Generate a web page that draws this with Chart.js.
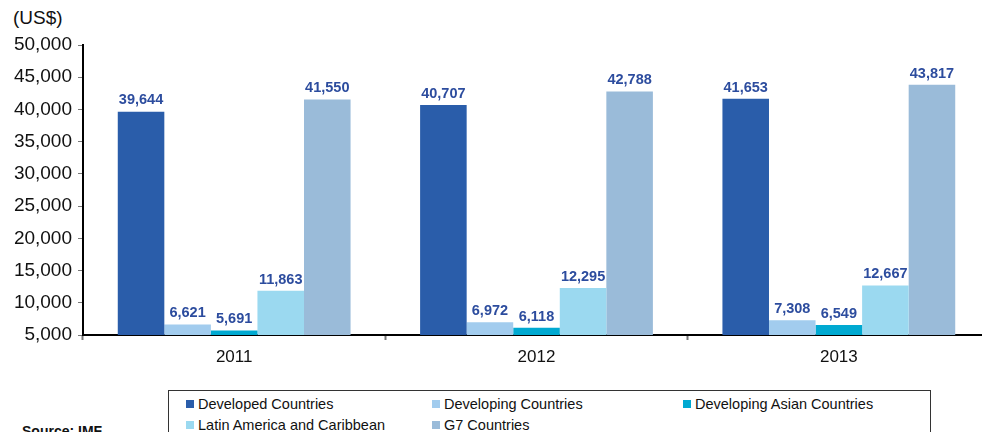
<!DOCTYPE html>
<html>
<head>
<meta charset="utf-8">
<script src="https://cdn.jsdelivr.net/npm/chart.js@4/dist/chart.umd.min.js"></script>
<style>
  html, body { margin: 0; padding: 0; background: #fff; overflow: hidden; width: 982px; height: 432px; }
  body { position: relative; font-family: "Liberation Sans", Arial, sans-serif; color: #111; }
  #wrap { position: absolute; left: 0; top: 0; width: 990px; height: 380px; }
  #unit { position: absolute; left: 13px; top: 7px; font-size: 19px; }
  #legend { position: absolute; left: 168px; top: 390px; width: 763px; height: 60px; border: 1px solid #333;
    box-sizing: border-box; font-size: 14.5px; }
  .li { position: absolute; white-space: nowrap; line-height: 16px; }
  .li i { display: inline-block; width: 8px; height: 8px; margin-right: 4px; vertical-align: 1px; }
  #source { position: absolute; left: 22px; top: 423px; font-size: 14px; font-weight: bold; }
</style>
</head>
<body>
<div id="unit">(US$)</div>
<div id="wrap"><canvas id="c"></canvas></div>
<div id="legend"></div>
<div id="source">Source: IMF</div>
<script>
(function () {
  "use strict";
  var years = ["2011", "2012", "2013"];
  var seriesNames = ["Developed Countries", "Developing Countries", "Developing Asian Countries",
    "Latin America and Caribbean", "G7 Countries"];
  var developed = [39644, 40707, 41653];
  var developing = [6621, 6972, 7308];
  var devAsian = [5691, 6118, 6549];
  var latam = [11863, 12295, 12667];
  var g7 = [41550, 42788, 43817];
  var colors = ["#2a5daa", "#a2ccee", "#00a9d1", "#9bd9f0", "#9abbd9"];
  var LABEL_COL = "#2c4c9e";

  function fmt(n) { return Number(n).toLocaleString("en-US"); }

  var valueLabels = {
    id: "valueLabels",
    afterDatasetsDraw: function (chart) {
      var ctx = chart.ctx;
      ctx.save();
      ctx.font = "bold 14.5px 'Liberation Sans', Arial, sans-serif";
      ctx.fillStyle = LABEL_COL;
      ctx.textAlign = "center";
      ctx.textBaseline = "bottom";
      chart.data.datasets.forEach(function (ds, i) {
        chart.getDatasetMeta(i).data.forEach(function (bar, j) {
          ctx.fillText(fmt(ds.data[j]), bar.x, bar.y - 4);
        });
      });
      ctx.restore();
    }
  };

  var all = [developed, developing, devAsian, latam, g7];
  new Chart(document.getElementById("c"), {
    type: "bar",
    data: {
      labels: years,
      datasets: all.map(function (d, i) {
        return { label: seriesNames[i], data: d, backgroundColor: colors[i],
          barPercentage: 1, categoryPercentage: 0.77, borderWidth: 0 };
      })
    },
    options: {
      responsive: true, maintainAspectRatio: false, animation: false,
      layout: { padding: { top: 45, left: 0, right: 0, bottom: 0 } },
      plugins: { legend: { display: false }, tooltip: { enabled: false } },
      scales: {
        x: {
          grid: { drawOnChartArea: false, tickLength: 5, color: "#777", tickWidth: 2 },
          border: { color: "#000", width: 2 },
          ticks: { padding: 7, color: "#111", font: { size: 17, family: "'Liberation Sans', Arial, sans-serif" } },
          afterFit: function (s) { s.height = 45; }
        },
        y: {
          min: 5000, max: 50000,
          grid: { drawOnChartArea: false, tickLength: 5, color: "#777" },
          border: { color: "#000", width: 2 },
          ticks: { stepSize: 5000, padding: 6, color: "#111",
            font: { size: 19, family: "'Liberation Sans', Arial, sans-serif" },
            callback: function (v) { return fmt(v); } },
          afterFit: function (s) { s.width = 83; }
        }
      }
    },
    plugins: [valueLabels]
  });

  // html legend in a boxed 3-column grid
  var pos = [[17, 5], [263, 5], [514, 5], [17, 26], [263, 26]];
  var lg = document.getElementById("legend");
  seriesNames.forEach(function (n, i) {
    var d = document.createElement("div");
    d.className = "li";
    d.style.left = pos[i][0] + "px";
    d.style.top = pos[i][1] + "px";
    d.innerHTML = "<i style='background:" + colors[i] + "'></i>" + n;
    lg.appendChild(d);
  });
})();
</script>
</body>
</html>
